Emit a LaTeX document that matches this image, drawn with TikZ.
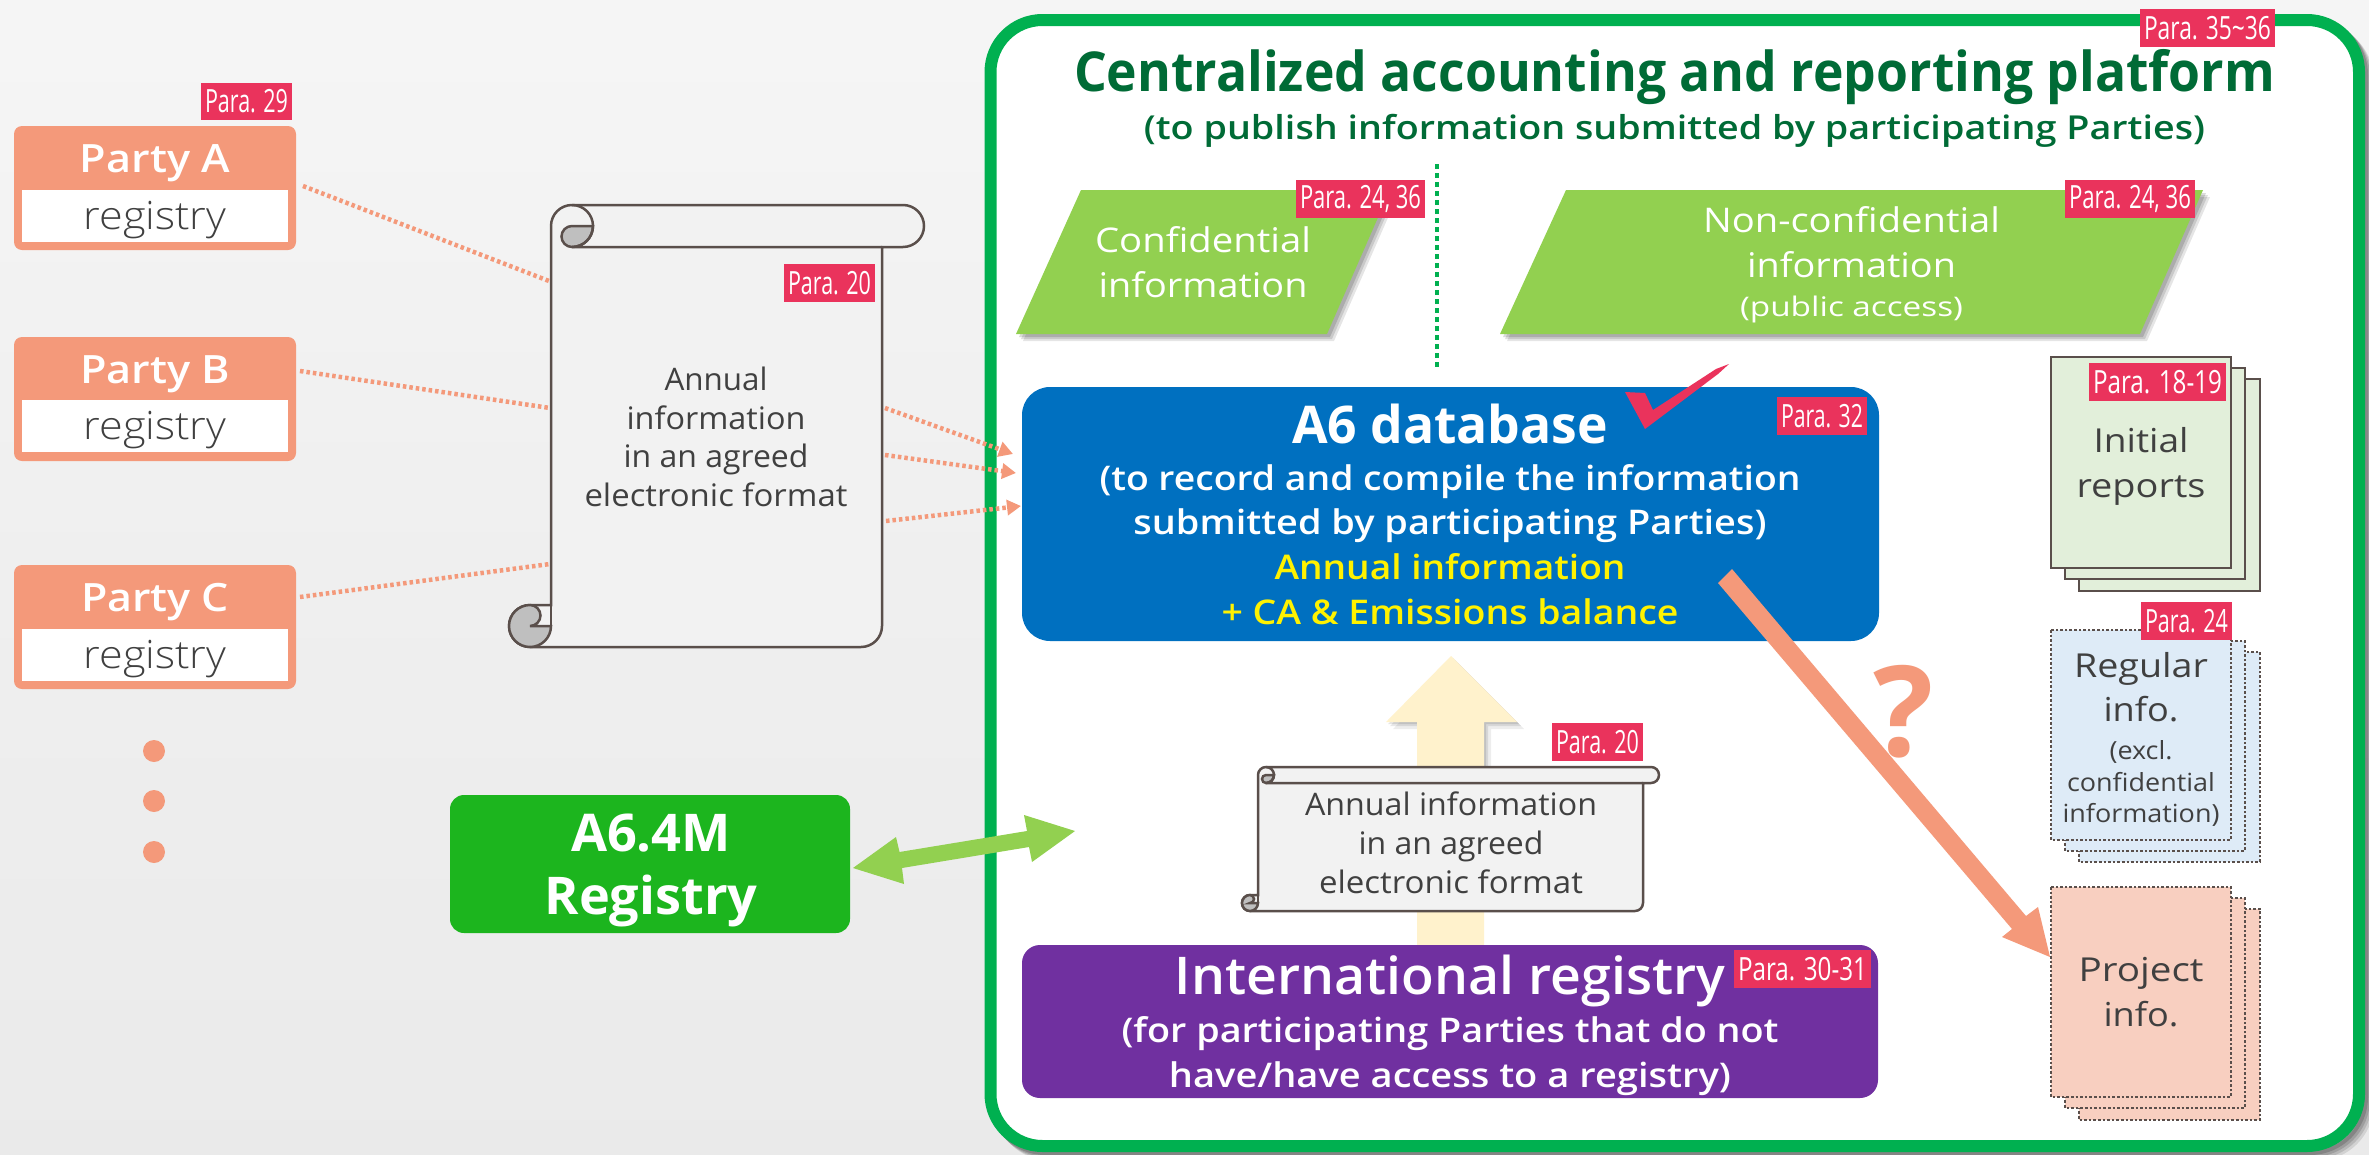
\documentclass[tikz,border=0pt]{standalone}
\usepackage{graphicx}
\usepackage{fontspec}
\setmainfont{Open Sans}
\newfontfamily\thinf{Open Sans Light}
\newfontfamily\semif{Open Sans Semibold}
\usetikzlibrary{arrows.meta}
\definecolor{bgc}{HTML}{EFEFEF}
\definecolor{salmon}{HTML}{F4997A}
\definecolor{tagc}{HTML}{EA335C}
\definecolor{frameg}{HTML}{00B050}
\definecolor{titleg}{HTML}{006B36}
\definecolor{leaf}{HTML}{92D050}
\definecolor{dbblue}{HTML}{0070C0}
\definecolor{regpurple}{HTML}{7030A0}
\definecolor{regg}{HTML}{1CB51E}
\definecolor{cream}{HTML}{FFF2CC}
\definecolor{scrolln}{HTML}{5A4F4B}
\definecolor{scrollf}{HTML}{F2F2F2}
\definecolor{txt}{HTML}{404040}
\definecolor{paleg}{HTML}{E2EFDA}
\definecolor{paleb}{HTML}{DEEBF7}
\definecolor{palep}{HTML}{F8CFC0}
\newcommand{\fw}[2]{\resizebox{#1pt}{\height}{#2}}
\newcommand{\fs}[2]{\fontsize{#1}{#2}\selectfont}
\newcommand{\paratag}[6]{\node[tagbox,minimum width={(#4-#2)*1pt},minimum height={(#5-#3)*1pt}] (#1) at ({(#2+#4)/2},{(#3+#5)/2}) {\fw{\the\numexpr#4-#2-8\relax}{#6}};}
\newcommand{\scrollshape}[6]{%
 % L R T B r lw
 \draw[scrolln,line width=#6pt,fill=scrollf] ({#1},{#3+#5}) arc[start angle=180,end angle=90,radius=#5pt] -- ({#2+#5},{#3}) arc[start angle=90,end angle=-90,radius=#5pt] -- ({#2},{#3+2*#5}) -- ({#2},{#4-#5}) arc[start angle=0,end angle=-90,radius=#5pt] -- ({#1-#5},{#4}) arc[start angle=270,end angle=90,radius=#5pt] -- ({#1},{#4-2*#5}) -- cycle;
 \draw[scrolln,line width=#6pt,fill=gray!50] ({#1+#5},{#3+2*#5}) arc[start angle=270,end angle=90,radius=#5/2*1pt] -- ({#1+2*#5},{#3+#5}) arc[start angle=0,end angle=-90,radius=#5pt] -- cycle;
 \draw[scrolln,line width=#6pt] ({#1+#5},{#3}) arc[start angle=90,end angle=-90,radius=#5pt] -- ({#2},{#3+2*#5});
 \draw[scrolln,line width=#6pt,fill=gray!50] ({#1-#5},{#4-2*#5}) arc[start angle=90,end angle=-90,radius=#5/2*1pt] -- ({#1},{#4-#5}) arc[start angle=0,end angle=-90,radius=#5pt] arc[start angle=270,end angle=90,radius=#5pt] -- cycle;
 \draw[scrolln,line width=#6pt] ({#1-#5},{#4-2*#5}) -- ({#1},{#4-2*#5}) -- ({#1},{#4-#5});
}
\tikzset{
 tagbox/.style={fill=tagc,text=white,inner sep=0pt,outer sep=0pt,font=\fs{32}{34}},
 partybox/.style={fill=salmon,rounded corners=8pt,inner sep=0pt},
 regbox/.style={fill=white,inner sep=0pt},
 dotline/.style={salmon,line width=4.5pt,dash pattern=on 3.5pt off 3pt},
 lbl/.style={inner sep=0pt,align=center,yshift=-4pt},
 stackgreen/.style={draw=scrolln,line width=2.5pt,fill=paleg},
 stackblue/.style={draw=scrolln,line width=2.8pt,dash pattern=on 2.6pt off 2pt,fill=paleb},
 stackpink/.style={draw=scrolln,line width=2.8pt,dash pattern=on 2.6pt off 2pt,fill=palep},
}
\begin{document}
\begin{tikzpicture}[x=1pt,y=-1pt]
\useasboundingbox (0,0) rectangle (2369,1154);
\shade[top color=bgc!60!white,bottom color=bgc!98!black,middle color=bgc] (0,0) rectangle (2369,1154);
% frame
\foreach \d/\o in {9/.10,7/.12,5/.14,3/.16}{
 \draw[black,opacity=\o,line width=12pt,rounded corners=52pt] (990.5+\d,20+\d) rectangle (2359+\d,1146+\d);}
\draw[frameg,line width=12pt,fill=white,rounded corners=52pt] (990.5,20) rectangle (2359,1146);
\node[lbl,text=titleg,font=\bfseries\fs{55}{60}] (title) at (1674.5,73) {\fw{1201}{Centralized accounting and reporting platform}};
\node[lbl,text=titleg,font=\semif\fs{33}{38}] (subtitle) at (1674.5,127) {\fw{1061}{(to publish information submitted by participating Parties)}};
\paratag{t3536}{2140}{9}{2275}{47}{Para. 35\textasciitilde36}
% parties
\node[partybox,minimum width=282pt,minimum height=124pt] (pa) at (155,188) {};
\node[regbox,minimum width=266pt,minimum height=52pt] (ra) at (155,216) {};
\node[lbl,text=txt,font=\thinf\fs{39}{44}] (rat) at (155,216) {\fw{143}{registry}};
\node[lbl,text=white,font=\semif\fs{39}{44}] (pat) at (155,159) {\fw{150}{Party A}};
\node[partybox,minimum width=282pt,minimum height=124pt] (pb) at (155,399) {};
\node[regbox,minimum width=266pt,minimum height=52pt] (rb) at (155,426) {};
\node[lbl,text=txt,font=\thinf\fs{39}{44}] (rbt) at (155,426) {\fw{143}{registry}};
\node[lbl,text=white,font=\semif\fs{39}{44}] (pbt) at (155,370) {\fw{150}{Party B}};
\node[partybox,minimum width=282pt,minimum height=124pt] (pc) at (155,627) {};
\node[regbox,minimum width=266pt,minimum height=52pt] (rc) at (155,655) {};
\node[lbl,text=txt,font=\thinf\fs{39}{44}] (rct) at (155,655) {\fw{143}{registry}};
\node[lbl,text=white,font=\semif\fs{39}{44}] (pct) at (155,598) {\fw{148}{Party C}};
\paratag{t29}{201}{83}{292}{120}{Para. 29}
\node[circle,fill=salmon,minimum size=22pt,inner sep=0pt] (d1) at (154,751) {};
\node[circle,fill=salmon,minimum size=22pt,inner sep=0pt] (d2) at (154,801) {};
\node[circle,fill=salmon,minimum size=22pt,inner sep=0pt] (d3) at (154,852) {};
% large scroll
\scrollshape{551}{882}{205}{647}{21}{2.5}
\node[lbl,text=txt,font=\fs{31}{38.5}] (scrolltext) at (716,433) {\fw{103}{Annual}\\\fw{179}{information}\\\fw{185}{in an agreed}\\\fw{263}{electronic format}};
\paratag{t20a}{784}{264}{875}{302}{Para. 20}
% dotted connectors
\coordinate (a1) at (303,186); \coordinate (a2) at (549,281);
\coordinate (b1) at (300,371); \coordinate (b2) at (550,408);
\coordinate (c1) at (300,597); \coordinate (c2) at (550,564);
\coordinate (s1) at (885,408); \coordinate (e1) at (1013,454);
\coordinate (s2) at (885,455); \coordinate (e2) at (1016,473);
\coordinate (s3) at (886,521); \coordinate (e3) at (1021,506);
\draw[dotline] (a1) -- (a2);
\draw[dotline] (b1) -- (b2);
\draw[dotline] (c1) -- (c2);
\foreach \p/\q in {s1/e1,s2/e2,s3/e3}{
 \draw[dotline,-{Triangle[length=14pt,width=15pt,fill=salmon]}] (\p) -- (\q);}
% parallelograms
\foreach \d/\o in {7/.10,5/.12,3/.14}{
 \fill[black,opacity=\o] (1081+\d,190+\d) -- (1390+\d,190+\d) -- (1327+\d,334+\d) -- (1016+\d,334+\d) -- cycle;
 \fill[black,opacity=\o] (1566+\d,190+\d) -- (2203+\d,190+\d) -- (2140+\d,334+\d) -- (1500+\d,334+\d) -- cycle;}
\fill[leaf] (1081,190) -- (1390,190) -- (1327,334) -- (1016,334) -- cycle;
\fill[leaf] (1566,190) -- (2203,190) -- (2140,334) -- (1500,334) -- cycle;
\node[lbl,text=white,font=\fs{34}{45}] (conf) at (1203,258) {\fw{216}{Confidential}\\\fw{209}{information}};
\node[lbl,text=white,font=\fs{34}{45}] (nonconf) at (1851.5,238) {\fw{297}{Non-confidential}\\\fw{209}{information}};
\node[lbl,text=white,font=\fs{27}{32}] (public) at (1851.5,305) {\fw{223}{(public access)}};
\paratag{t2436a}{1296}{180}{1425}{218}{Para. 24, 36}
\paratag{t2436b}{2065}{180}{2195}{218}{Para. 24, 36}
\coordinate (v1) at (1437,164); \coordinate (v2) at (1437,367);
\draw[frameg,line width=3.5pt,dash pattern=on 5pt off 4pt] (v1) -- (v2);
% A6 box
\node[fill=dbblue,rounded corners=28pt,minimum width=857pt,minimum height=254pt,inner sep=0pt] (a6) at (1450.5,514) {};
\node[lbl,text=white,font=\bfseries\fs{52}{56}] (a6t) at (1450,420) {\fw{316}{A6 database}};
\node[lbl,text=white,font=\semif\fs{34}{44}] (a6s) at (1450,499.5) {\fw{701}{(to record and compile the information}\\\fw{633}{submitted by participating Parties)}};
\node[lbl,text=yellow,font=\semif\fs{34}{44.5}] (a6y) at (1450,585) {\fw{351}{Annual information}\\\fw{457}{+ CA \& Emissions balance}};
\paratag{t32}{1777}{397}{1867}{435}{Para. 32}
\fill[tagc] (1625,392) -- (1645,393) -- (1653,410) -- (1716,369) -- (1729,364) -- (1718,374) -- (1645,429) -- cycle;
% International registry
\foreach \d/\o in {7/.07,4/.09,2/.10}{
 \fill[black,opacity=\o] (1451+\d,656+\d) -- (1517+\d,722+\d) -- (1484+\d,722+\d) -- (1484+\d,770) -- (1417+\d,770) -- (1417+\d,722+\d) -- (1386+\d,722+\d) -- cycle;}
\fill[cream] (1451,656) -- (1517,722) -- (1484,722) -- (1484,945) -- (1417,945) -- (1417,722) -- (1386,722) -- cycle;
\scrollshape{1258}{1643}{767}{911}{8}{2.5}
\node[lbl,text=txt,font=\fs{31}{39}] (smalltext) at (1451,839) {\fw{292}{Annual information}\\\fw{185}{in an agreed}\\\fw{264}{electronic format}};
\paratag{t20b}{1552}{723}{1643}{761}{Para. 20}
\node[fill=regpurple,rounded corners=18pt,minimum width=856pt,minimum height=153pt,inner sep=0pt] (ir) at (1450,1021.5) {};
\node[lbl,text=white,font=\semif\fs{52}{56}] (irt) at (1450,977) {\fw{550}{International registry}};
\node[lbl,text=white,font=\semif\fs{34}{45}] (irs) at (1450,1052) {\fw{657}{(for participating Parties that do not}\\\fw{562}{have/have access to a registry)}};
\paratag{t3031}{1734}{950}{1871}{988}{Para. 30-31}
% A6.4M
\node[fill=regg,rounded corners=14pt,minimum width=400pt,minimum height=138pt,inner sep=0pt] (m) at (650,864) {};
\node[lbl,text=white,font=\bfseries\fs{52}{63}] (mt) at (651,866) {\fw{160}{A6.4M}\\\fw{213}{Registry}};
\fill[leaf] (853,868) -- (896,837) -- (899.5,852) -- (1027,831) -- (1024,815) -- (1075,831) -- (1032,862) -- (1029,847) -- (902,868) -- (904,884) -- cycle;
% salmon arrow
\fill[salmon] (1718,583) -- (1732,569) -- (2026,916) -- (2038,907) -- (2050,957) -- (2002,937) -- (2012,929) -- cycle;
\node[lbl,text=salmon,font=\bfseries\fs{126}{130}] (q) at (1904,708) {?};
% stacks
\draw[stackgreen] (2079,379) rectangle (2260,591);
\draw[stackgreen] (2065,368) rectangle (2245,579);
\draw[stackgreen] (2051,357) rectangle (2231,568);
\paratag{t1819}{2089}{363}{2226}{401}{Para. 18-19}
\node[lbl,text=txt,font=\fs{33}{45}] (init) at (2141,462) {\fw{95}{Initial}\\\fw{129}{reports}};
\draw[stackblue] (2079,652) rectangle (2260,862);
\draw[stackblue] (2065,641) rectangle (2245,851);
\draw[stackblue] (2051,630) rectangle (2231,840);
\paratag{t24}{2141}{602}{2232}{640}{Para. 24}
\node[lbl,text=txt,font=\fs{33}{44.5}] (reg) at (2141,683) {\fw{134}{Regular}\\\fw{75}{info.}};
\node[lbl,text=txt,font=\fs{25}{31.5}] (regs) at (2141,779.5) {\fw{63}{(excl.}\\\fw{148}{confidential}\\\fw{157}{information)}};
\draw[stackpink] (2079,909) rectangle (2260,1120);
\draw[stackpink] (2065,898) rectangle (2245,1108);
\draw[stackpink] (2051,887) rectangle (2231,1097);
\node[lbl,text=txt,font=\fs{33}{45}] (proj) at (2141,988) {\fw{125}{Project}\\\fw{75}{info.}};
\end{tikzpicture}
\end{document}
